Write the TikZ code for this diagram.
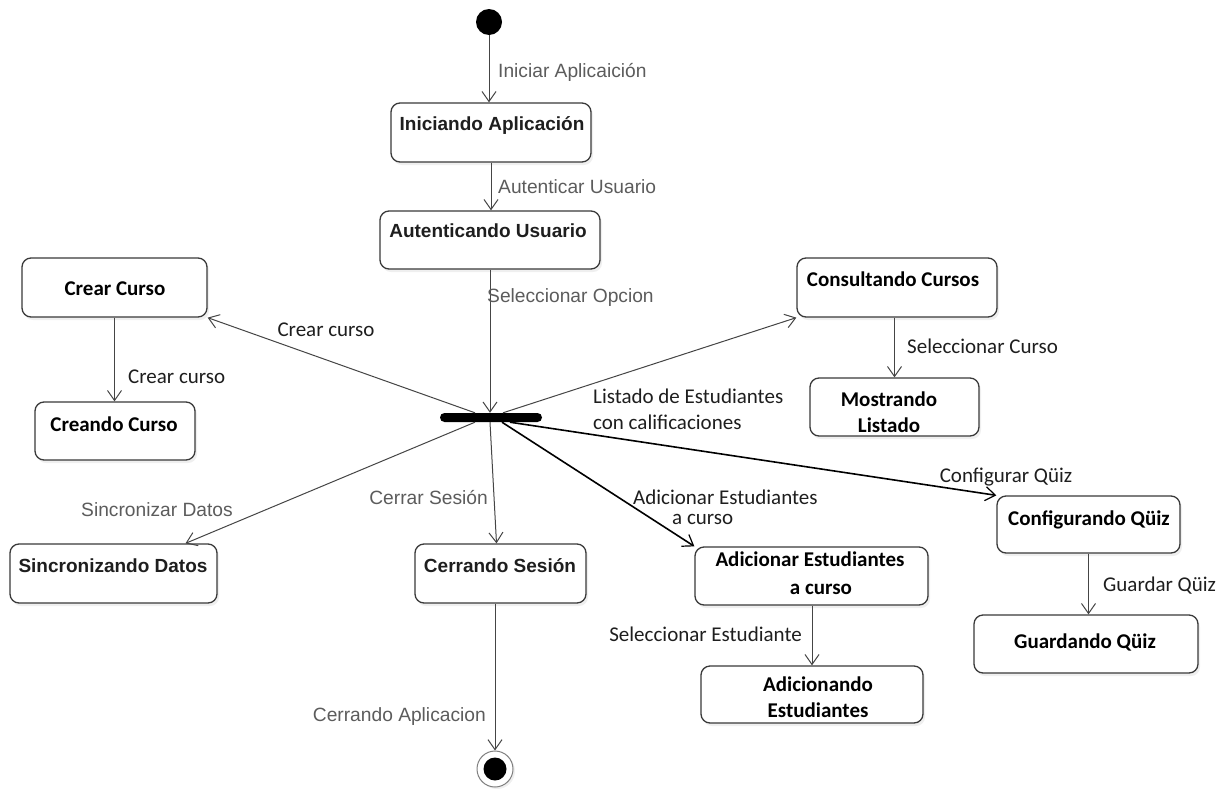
\documentclass[tikz,border=0pt]{standalone}
\usepackage{fontspec}
\usetikzlibrary{arrows.meta,shadows}
\newfontfamily\arialf{Liberation Sans}
\newfontfamily\calf{Carlito}
\definecolor{boxline}{HTML}{3A3A3A}
\definecolor{lblgray}{HTML}{5C5C5C}
\definecolor{edgegray}{HTML}{454545}
\definecolor{txtdark}{HTML}{1E1E1E}

\begin{document}
\begin{tikzpicture}[x=1pt,y=-1pt,
  state/.style={draw=boxline, line width=1.3pt, rounded corners=9pt, fill=white,
    inner sep=0pt, drop shadow={shadow xshift=2pt, shadow yshift=-3pt, opacity=0.12}},
  atitle/.style={font=\arialf\bfseries\fontsize{19}{22}\selectfont, text=txtdark, inner sep=0pt, anchor=mid},
  ctitle/.style={font=\calf\bfseries\fontsize{21}{26}\selectfont, text=black, inner sep=0pt, align=center},
  glabel/.style={font=\arialf\fontsize{19.2}{22}\selectfont, text=lblgray, inner sep=0pt},
  clabel/.style={font=\calf\fontsize{21}{26}\selectfont, text=txtdark, inner sep=0pt},
  flow/.style={draw=edgegray, line width=1pt,
    -{Straight Barb[length=10pt,width=14pt,line width=1pt]}},
  strong/.style={draw=black, line width=1.6pt,
    -{Straight Barb[length=10pt,width=14pt,line width=1.2pt]}}
]
\useasboundingbox[fill=white] (0,0) rectangle (1224,790);

% initial and final pseudo-states
\node[circle, fill=black, minimum size=26pt, inner sep=0pt] (start) at (489,22) {};
\node[circle, draw=gray, line width=1pt, fill=white, minimum size=36pt, inner sep=0pt,
  drop shadow={shadow xshift=2pt, shadow yshift=-2pt, opacity=0.12}] (end) at (495,769) {};
\node[circle, fill=black, minimum size=23pt, inner sep=0pt] (endcore) at (end.center) {};

% fork bar
\node[fill=black, rounded corners=4.5pt, minimum width=102pt, minimum height=9pt, inner sep=0pt] (bar) at (491,417.5) {};

% states
\node[state, minimum width=200pt, minimum height=59pt] (ini) at (491,132.5) {};
\node[atitle] (ini-t) at (492,128) {Iniciando Aplicación};

\node[state, minimum width=220pt, minimum height=58pt] (aut) at (490,240) {};
\node[atitle] (aut-t) at (488,235) {Autenticando Usuario};

\node[state, minimum width=185pt, minimum height=59pt] (crear) at (114.5,287.5) {};
\node[ctitle, anchor=mid] (crear-t) at (115,293) {Crear Curso};

\node[state, minimum width=160pt, minimum height=58pt] (creando) at (115,431) {};
\node[ctitle, anchor=mid] (creando-t) at (114,429) {Creando Curso};

\node[state, minimum width=200pt, minimum height=59pt] (consult) at (897,287.5) {};
\node[ctitle, anchor=mid] (consult-t) at (893,284) {Consultando Cursos};

\node[state, minimum width=169pt, minimum height=58pt] (mostr) at (894.5,407) {};
\node[ctitle] (mostr-t) at (889,412) {Mostrando\\Listado};

\node[state, minimum width=207pt, minimum height=59pt] (sinc) at (113.5,573.5) {};
\node[atitle] (sinc-t) at (113,570) {Sincronizando Datos};

\node[state, minimum width=171pt, minimum height=59pt] (cerr) at (500.5,573.5) {};
\node[atitle] (cerr-t) at (500,570) {Cerrando Sesión};

\node[state, minimum width=233pt, minimum height=58pt] (adic) at (811.5,576) {};
\node[ctitle, font=\calf\bfseries\fontsize{21}{28}\selectfont] (adic-t) at (810,573)
  {Adicionar Estudiantes\\\hspace*{22pt}a curso};

\node[state, minimum width=222pt, minimum height=57pt] (adicn) at (812,694.5) {};
\node[ctitle] (adicn-t) at (818,697) {Adicionando\\Estudiantes};

\node[state, minimum width=183pt, minimum height=57pt] (conf) at (1088.5,524.5) {};
\node[ctitle, anchor=mid] (conf-t) at (1089,523) {Configurando Qüiz};

\node[state, minimum width=224pt, minimum height=58pt] (guard) at (1086,644) {};
\node[ctitle, anchor=mid] (guard-t) at (1085,646) {Guardando Qüiz};

% transitions
\draw[flow] (start) -- (start |- ini.north);
\draw[flow] (ini.south) -- (ini.south |- aut.north);
\draw[flow] (aut.south) -- (aut.south |- bar.north);
\draw[flow] ([xshift=-16pt]bar.north) -- (crear.south east);
\draw[flow] (crear.south) -- (crear.south |- creando.north);
\draw[flow] ([xshift=12pt]bar.north) -- (consult.south west);
\draw[flow] (mostr.north |- consult.south) -- (mostr.north);
\draw[flow] ([xshift=-16pt]bar.south) -- ([xshift=72pt]sinc.north);
\draw[flow] ([xshift=-1pt]bar.south) -- ([xshift=-4pt]cerr.north);
\draw[flow] (end.north |- cerr.south) -- (end.north);
\draw[strong] ([xshift=11pt]bar.south) -- (adic.north west);
\draw[strong] ([xshift=19pt]bar.south) -- (conf.north west);
\draw[flow] (adicn.north |- adic.south) -- (adicn.north);
\draw[flow] (conf.south) -- (conf.south |- guard.north);

% transition labels
\node[glabel, anchor=mid west] (l-iniciar) at (498,75) {Iniciar Aplicaición};
\node[glabel, anchor=mid west] (l-autent) at (498,191) {Autenticar Usuario};
\node[glabel, anchor=mid west] (l-selop) at (487,300) {Seleccionar Opcion};
\node[clabel, anchor=mid] (l-crear1) at (326,334) {Crear curso};
\node[clabel, anchor=mid west] (l-crear2) at (128,381) {Crear curso};
\node[clabel, align=left, anchor=west] (l-listado) at (593,409) {Listado de Estudiantes\\con calificaciones};
\node[clabel, anchor=mid west] (l-selcur) at (907,351) {Seleccionar Curso};
\node[glabel, anchor=mid] (l-sinc) at (157,514) {Sincronizar Datos};
\node[glabel, anchor=mid east] (l-cerrar) at (488,502) {Cerrar Sesión};
\node[glabel, anchor=mid east] (l-cerrapp) at (486,719) {Cerrando Aplicacion};
\node[clabel, align=left, anchor=west, font=\calf\fontsize{21}{20}\selectfont] (l-adic) at (633,507)
  {Adicionar Estudiantes\\\hspace*{39pt}a curso};
\node[clabel, anchor=mid] (l-conf) at (1006,480) {Configurar Qüiz};
\node[clabel, anchor=mid east] (l-selest) at (802,639) {Seleccionar Estudiante};
\node[clabel, anchor=mid west] (l-guard) at (1103,589) {Guardar Qüiz};
\end{tikzpicture}
\end{document}
